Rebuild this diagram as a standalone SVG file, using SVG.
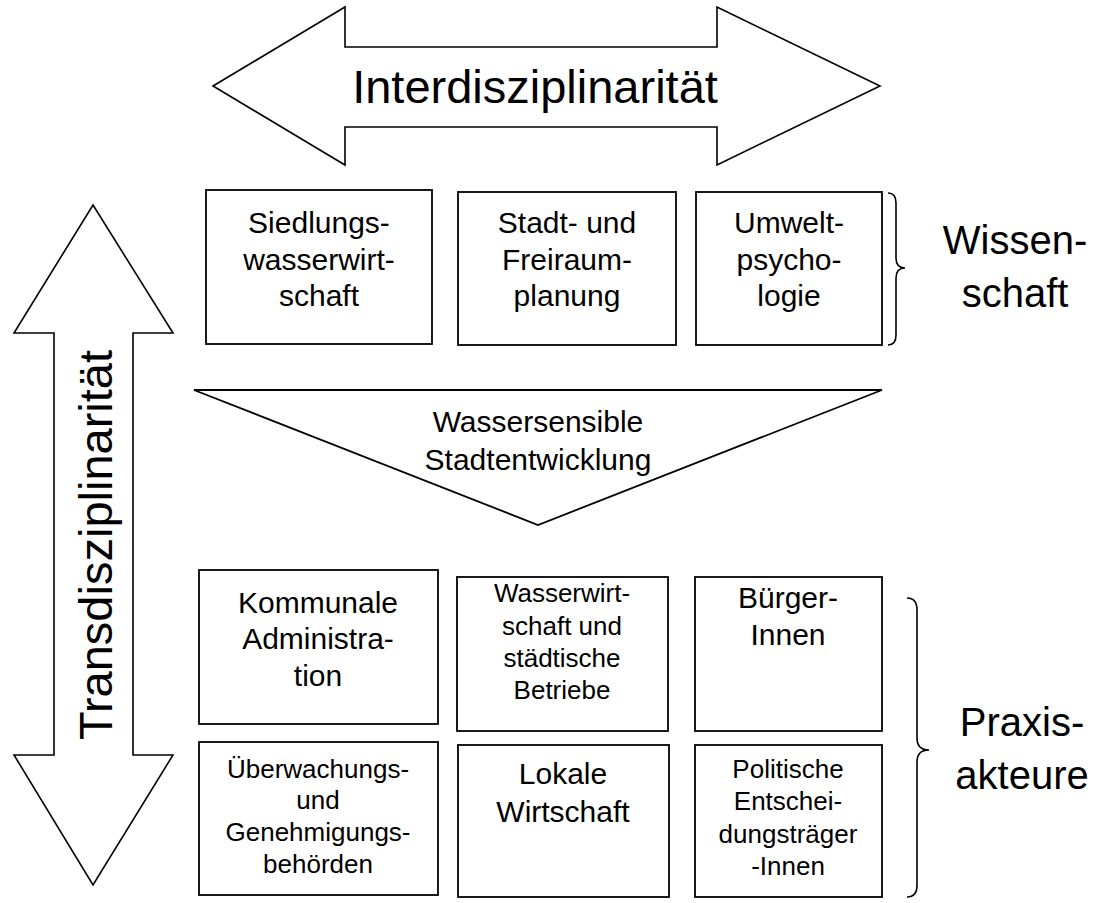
<svg xmlns="http://www.w3.org/2000/svg" width="1105" height="903" viewBox="0 0 1105 903">
<style>
.sh{fill:#fff;stroke:#000;stroke-width:1.6}
.fn{fill:#fff;stroke:#000;stroke-width:1.8}
.bx{fill:#fff;stroke:#000;stroke-width:1.8}
.br{fill:none;stroke:#000;stroke-width:1.6}
text{font-family:"Liberation Sans",Arial,sans-serif;fill:#000;text-anchor:middle}
.big{font-size:47px}
.t1{font-size:30px}
.t3{font-size:26px}
.lab{font-size:40px}
</style>
<g id="interdisziplinaritaet">
<polygon class="sh" points="213,86 345,7 345,47 717,47 717,7 880,86 717,165 717,127 345,127 345,165"/>
<text class="big" x="535" y="103">Interdisziplinarität</text>
</g>
<g id="transdisziplinaritaet">
<polygon class="sh" points="93,205 173,333 133,333 133,755 173,755 93,885 14,755 54,755 54,333 14,333"/>
<text class="big" transform="translate(112 545) rotate(-90)" x="0" y="0">Transdisziplinarität</text>
</g>
<g id="siedlungswasserwirtschaft">
<rect class="bx" x="206" y="190" width="226" height="154"/>
<text class="t1" x="319" y="233">Siedlungs-</text><text class="t1" x="319" y="270">wasserwirt-</text><text class="t1" x="319" y="306">schaft</text>
</g>
<g id="stadtplanung">
<rect class="bx" x="458" y="192" width="218" height="153"/>
<text class="t1" x="567" y="233">Stadt- und</text><text class="t1" x="567" y="270">Freiraum-</text><text class="t1" x="567" y="306">planung</text>
</g>
<g id="umweltpsychologie">
<rect class="bx" x="696" y="192" width="186" height="153"/>
<text class="t1" x="789" y="233">Umwelt-</text><text class="t1" x="789" y="270">psycho-</text><text class="t1" x="789" y="306">logie</text>
</g>
<g id="wissenschaft">
<path class="br" d="M888,193 Q896,193 896,203 L896,258 Q896,268 905,268 Q896,268 896,278 L896,335 Q896,345 888,345"/>
<text class="lab" x="1015" y="254">Wissen-</text>
<text class="lab" x="1015" y="307">schaft</text>
</g>
<g id="wassersensible-stadtentwicklung">
<polygon class="fn" points="194,390 882,390 538,525"/>
<text class="t1" x="538" y="432">Wassersensible</text><text class="t1" x="538" y="470">Stadtentwicklung</text>
</g>
<g id="kommunale-administration">
<rect class="bx" x="199" y="570" width="239" height="154"/>
<text class="t1" x="318" y="613">Kommunale</text><text class="t1" x="318" y="649">Administra-</text><text class="t1" x="318" y="686">tion</text>
</g>
<g id="wasserwirtschaft-betriebe">
<rect class="bx" x="457" y="577" width="211" height="154"/>
<text class="t3" x="562" y="602">Wasserwirt-</text><text class="t3" x="562" y="635">schaft und</text><text class="t3" x="562" y="667">städtische</text><text class="t3" x="562" y="699">Betriebe</text>
</g>
<g id="buergerinnen">
<rect class="bx" x="695" y="577" width="187" height="154"/>
<text class="t1" x="788" y="608">Bürger-</text><text class="t1" x="788" y="645">Innen</text>
</g>
<g id="ueberwachungsbehoerden">
<rect class="bx" x="199" y="742" width="239" height="153"/>
<text class="t3" x="318" y="778">Überwachungs-</text><text class="t3" x="318" y="809">und</text><text class="t3" x="318" y="841">Genehmigungs-</text><text class="t3" x="318" y="873">behörden</text>
</g>
<g id="lokale-wirtschaft">
<rect class="bx" x="458" y="745" width="211" height="152"/>
<text class="t1" x="563" y="784">Lokale</text><text class="t1" x="563" y="822">Wirtschaft</text>
</g>
<g id="politische-entscheidungstraeger">
<rect class="bx" x="695" y="745" width="187" height="152"/>
<text class="t3" x="788" y="778">Politische</text><text class="t3" x="788" y="810">Entschei-</text><text class="t3" x="788" y="843">dungsträger</text><text class="t3" x="788" y="875">-Innen</text>
</g>
<g id="praxisakteure">
<path class="br" d="M907,598 Q917,598 917,610 L917,738 Q917,750 929,750 Q917,750 917,762 L917,885 Q917,897 907,897"/>
<text class="lab" x="1022" y="736">Praxis-</text>
<text class="lab" x="1022" y="789">akteure</text>
</g>
<g id="connectors"></g>
</svg>
